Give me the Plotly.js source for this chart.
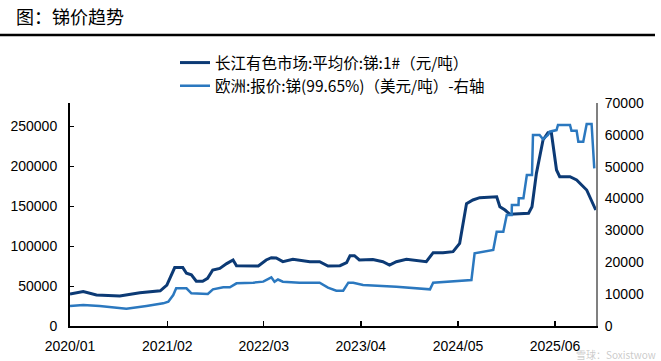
<!DOCTYPE html>
<html>
<head>
<meta charset="utf-8">
<script src="https://cdn.plot.ly/plotly-3.0.1.min.js"></script>
<style>html,body{margin:0;padding:0;background:#fff;}#chart{width:661px;height:361px;}</style>
</head>
<body>
<div id="chart"></div>
<script>
// 长江有色市场:平均价:锑:1# (元/吨) - left axis
const cjDates = ["2020-01-01","2020-02-24","2020-04-18","2020-07-22","2020-10-12","2021-01-03","2021-01-30","2021-03-03","2021-04-05","2021-04-20","2021-05-10","2021-05-30","2021-06-25","2021-07-15","2021-08-05","2021-09-03","2021-10-01","2021-10-27","2021-11-10","2021-12-20","2022-02-07","2022-03-11","2022-04-01","2022-04-21","2022-05-18","2022-06-28","2022-07-25","2022-09-05","2022-10-15","2022-11-18","2023-01-06","2023-02-02","2023-02-16","2023-03-06","2023-03-26","2023-05-20","2023-06-30","2023-07-27","2023-08-24","2023-10-04","2023-12-24","2024-01-21","2024-03-01","2024-04-11","2024-05-08","2024-05-22","2024-06-05","2024-07-01","2024-07-29","2024-10-06","2024-10-19","2024-11-09","2024-11-29","2025-02-13","2025-02-27","2025-03-17","2025-04-13","2025-05-03","2025-05-17","2025-06-07","2025-06-20","2025-08-01","2025-08-28","2025-10-08","2025-10-28","2025-11-14"];
const cjValues = [40000,43000,38750,37500,41600,44000,51000,73000,73000,66000,64000,56000,56000,59600,70000,72000,78000,82500,75400,75000,75000,82500,85400,85000,80400,83300,82500,80400,80400,75000,75400,79200,87900,87900,82500,83000,80400,76250,80400,83300,80400,91700,91700,92900,103300,128000,153000,157500,160400,161600,149100,145000,139600,140900,149000,190800,232500,241600,241600,195000,186600,186600,182500,170000,157500,145000];

// 欧洲:报价:锑(99.65%) (美元/吨) - right axis
const euDates = ["2020-01-01","2020-02-24","2020-05-01","2020-07-22","2020-08-18","2020-11-08","2021-01-15","2021-02-05","2021-02-25","2021-03-09","2021-04-20","2021-05-10","2021-06-13","2021-07-16","2021-08-06","2021-09-17","2021-10-14","2021-11-10","2022-01-17","2022-02-27","2022-04-01","2022-04-14","2022-04-28","2022-05-18","2022-07-25","2022-10-15","2022-11-18","2022-11-25","2022-12-22","2023-01-19","2023-02-09","2023-03-01","2023-04-10","2023-08-24","2024-01-08","2024-01-21","2024-05-01","2024-06-25","2024-07-08","2024-08-26","2024-09-22","2024-10-06","2024-11-02","2024-11-16","2024-12-06","2024-12-07","2025-01-03","2025-01-04","2025-01-23","2025-02-06","2025-02-27","2025-03-03","2025-03-30","2025-04-13","2025-05-03","2025-05-10","2025-06-07","2025-06-13","2025-08-01","2025-08-07","2025-08-28","2025-09-04","2025-09-24","2025-10-08","2025-10-28","2025-11-08"];
const euValues = [6280,6600,6280,5550,5400,6280,7120,7640,9730,11830,11830,10250,10040,10040,11510,12140,12140,13390,13600,13920,15270,13900,14600,13920,13600,13600,12030,11830,11080,11080,13600,13600,12870,12340,11510,13600,14130,14440,22820,23350,23860,29600,29600,34840,34840,37980,37980,40080,40080,47400,47400,59950,59950,58600,59950,61000,61500,63100,63100,61300,61300,57850,57850,63400,63400,49500];

const xTickVals = ["2020-01-01","2021-02-01","2022-03-01","2023-04-01","2024-05-01","2025-06-01"];
const xTickText = ["2020/01","2021/02","2022/03","2023/04","2024/05","2025/06"];
const leftTicks = [0,50000,100000,150000,200000,250000];
const leftTickText = ["0","50000","100000","150000","200000","250000"];
const rightTicks = [0,10000,20000,30000,40000,50000,60000,70000];
const rightTickText = ["0","10000","20000","30000","40000","50000","60000","70000"];

const cjName = "长江有色市场:平均价:锑:1#（元/吨）";
const euName = "欧洲:报价:锑(99.65%)（美元/吨）-右轴";

const traces = [
  {x: cjDates, y: cjValues, name: cjName, type: "scatter", mode: "lines",
   line: {color: "#0c3a75", width: 3}, yaxis: "y"},
  {x: euDates, y: euValues, name: euName, type: "scatter", mode: "lines",
   line: {color: "#2b78bf", width: 2.5}, yaxis: "y2"}
];

const tickFont = {family: "Liberation Sans, Arial, sans-serif", size: 14, color: "#000"};

const layout = {
  width: 661, height: 361,
  margin: {l: 70, r: 65, t: 103, b: 35},
  paper_bgcolor: "#fff", plot_bgcolor: "#fff",
  title: {text: "图：锑价趋势", x: 16/661, xanchor: "left", y: 1 - 18/361, yanchor: "middle",
          font: {family: "Noto Sans CJK SC, sans-serif", size: 18, color: "#000"}},
  showlegend: true,
  legend: {x: (175-70)/526, xanchor: "left", y: (326-46)/223, yanchor: "top",
           font: {family: "Noto Sans CJK SC, sans-serif", size: 15.5, color: "#000"},
           bgcolor: "rgba(0,0,0,0)", tracegroupgap: 0, itemwidth: 30},
  xaxis: {type: "date", range: ["2020-01-01", "2025-11-15"], tickmode: "array",
          tickvals: xTickVals, ticktext: xTickText, ticks: "inside", ticklen: 5, tickwidth: 1.5,
          tickcolor: "#000", showgrid: false, zeroline: false, showline: true, linecolor: "#000",
          linewidth: 2, tickfont: tickFont, ticklabelstandoff: 6},
  yaxis: {range: [0, 278750], tickmode: "array", tickvals: leftTicks, ticktext: leftTickText,
          ticks: "inside", ticklen: 4,
          tickcolor: "#000", showgrid: false, zeroline: false, showline: true, linecolor: "#000",
          linewidth: 2, tickfont: tickFont, ticklabelstandoff: 8},
  yaxis2: {range: [0, 70000], overlaying: "y", side: "right", tickmode: "array", tickvals: rightTicks,
           ticktext: rightTickText,
           ticks: "", showgrid: false, zeroline: false, showline: true, linecolor: "#808080",
           linewidth: 2, tickfont: tickFont, ticklabelstandoff: 4},
  shapes: [{type: "line", xref: "paper", yref: "paper", x0: -70/526, x1: 585/526,
            y0: (326-35)/223, y1: (326-35)/223, line: {color: "#000", width: 2.5}}],
  annotations: [{text: "雪球：Soxistwow", xref: "paper", yref: "paper", x: (658-70)/526, y: -28/223,
                 xanchor: "right", yanchor: "middle", showarrow: false,
                 font: {family: "Noto Sans CJK SC, sans-serif", size: 10, color: "rgba(150,150,150,0.5)"}}]
};

Plotly.newPlot("chart", traces, layout, {displayModeBar: false, staticPlot: true});
</script>
</body>
</html>
